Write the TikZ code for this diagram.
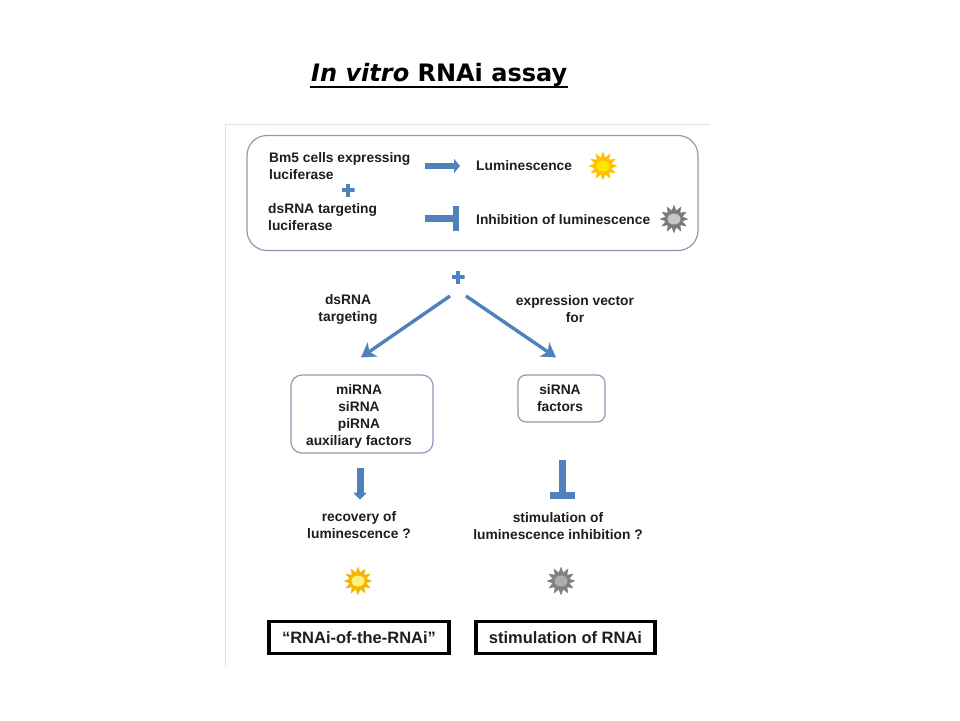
\documentclass[tikz,border=0pt]{standalone}
\usepackage{fontspec}
\setmainfont{Liberation Sans}
\newfontfamily\titlefont{DejaVu Sans}
\usetikzlibrary{arrows.meta,shapes.geometric}
\definecolor{bluearrow}{HTML}{4F81BD}
\definecolor{boxedge}{HTML}{8C9BB5}
\definecolor{txt}{HTML}{1E1E1E}
\definecolor{sunouter}{HTML}{FFC000}
\definecolor{suninner}{HTML}{FFE800}
\definecolor{sunouterb}{HTML}{F2B705}
\definecolor{suninnerb}{HTML}{FFF27A}
\tikzset{
  lbl/.style={inner sep=0pt,font=\fontsize{13.8}{17}\selectfont\bfseries,text=txt,align=center},
  lbll/.style={lbl,align=left,anchor=west},
  softbox/.style={draw=boxedge,line width=1.2pt,rounded corners=11pt,inner sep=0pt},
  resultbox/.style={draw=black,line width=3.5pt,inner sep=0pt,font=\fontsize{16.5}{19}\selectfont\bfseries,text=txt},
  blockarrow/.style={draw=bluearrow,line width=6pt,-{Triangle[length=6pt,width=14pt]}},
  blocktee/.style={draw=bluearrow,line width=6.5pt,-{Bar[width=25pt,line width=6.5pt]}},
  thinarrow/.style={draw=bluearrow,line width=3.4pt,-{Stealth[length=14pt,width=17pt,inset=4pt]}},
  plusmark/.style={inner sep=0pt,minimum size=13pt,draw=none,
    path picture={
      \fill[bluearrow] ([shift={(-6.5,-2.2)}]path picture bounding box.center) rectangle ([shift={(6.5,2.2)}]path picture bounding box.center);
      \fill[bluearrow] ([shift={(-2.2,-6.5)}]path picture bounding box.center) rectangle ([shift={(2.2,6.5)}]path picture bounding box.center);
    }},
  burst/.style={star,star points=12,star point ratio=1.65,inner sep=0pt,minimum size=29pt,draw=none},
  core/.style={ellipse,inner sep=0pt,minimum width=13pt,minimum height=11pt,draw=none},
  panelline/.style={draw=black!12,line width=0.8pt},
}
\begin{document}
\begin{tikzpicture}[x=1pt,y=-1pt]
\useasboundingbox (0,0) rectangle (960,720);
\fill[white] (0,0) rectangle (960,720);
% pasted-image edge
\coordinate (edgeA) at (225,667);
\coordinate (edgeB) at (225,124);
\coordinate (edgeC) at (710,124);
\draw[panelline] (edgeA) -- (edgeB) -- (edgeC);
% title
\node[anchor=base west,inner sep=0pt,font=\titlefont\fontsize{24}{28}\selectfont\bfseries] (title) at (311,81) {\textit{In vitro} RNAi assay};
\coordinate (ulA) at (310,87);
\coordinate (ulB) at (568,87);
\draw[line width=1.6pt] (ulA) -- (ulB);
% top panel
\node[draw=boxedge,line width=1.2pt,rounded corners=20pt,minimum width=451pt,minimum height=115pt,inner sep=0pt] (panel) at (472.5,193) {};
\node[lbll] (bm) at (269,166.5) {Bm5 cells expressing\\luciferase};
\node[plusmark] (plusA) at (348,190) {};
\node[lbll] (ds) at (268,217.5) {dsRNA targeting\\luciferase};
\node[lbll] (lum) at (476,166) {Luminescence};
\node[lbll] (inh) at (476,220) {Inhibition of luminescence};
\draw[blockarrow] ([shift={(0,-0.5)}]bm.east -| 425,0) -- ([shift={(-16,0)}]lum.west);
\draw[blocktee] ([shift={(-51,-1.5)}]inh.west) -- ([shift={(-17,-1.5)}]inh.west);
\node[burst,fill=sunouter] (sunA) at (603,166) {};
\node[core,fill=suninner] (sunAc) at (603,166) {};
\node[burst,fill=black!52] (darkA) at (674,219) {};
\node[core,fill=black!22] (darkAc) at (674,219) {};
% middle
\node[plusmark] (plusB) at (458,277) {};
\node[lbl] (dsT) at (348,309.5) {dsRNA\\targeting};
\node[lbl] (exT) at (575,309.5) {expression vector\\for};
\node[softbox,minimum width=142pt,minimum height=78pt] (mir) at (362,414) {};
\node[lbl] (mirT) at (359,416) {miRNA\\siRNA\\piRNA\\auxiliary factors};
\node[softbox,rounded corners=8pt,minimum width=87pt,minimum height=47pt] (sir) at (561.5,398.5) {};
\node[lbl] (sirT) at (560,398.5) {siRNA\\factors};
\draw[thinarrow] ([shift={(-8,19)}]plusB.center) -- ([shift={(-1,-17)}]mir.north);
\draw[thinarrow] ([shift={(8,19)}]plusB.center) -- ([shift={(-5.5,-17)}]sir.north);
% lower
\node[lbl] (rec) at (359,525.5) {recovery of\\luminescence ?};
\node[lbl] (sti) at (558,526.5) {stimulation of\\luminescence inhibition ?};
\draw[draw=bluearrow,line width=7pt,-{Triangle[length=7pt,width=13pt]}] ([shift={(-2,14)}]mir.south) -- ([shift={(1,-12)}]rec.north);
\draw[draw=bluearrow,line width=7pt,-{Bar[width=25pt,line width=7pt]}] ([shift={(0.5,37)}]sir.south) -- ([shift={(4,-14)}]sti.north);
\node[burst,fill=sunouterb] (sunB) at (358,581) {};
\node[core,fill=suninnerb] (sunBc) at (358,581) {};
\node[burst,fill=black!50] (darkB) at (561,581) {};
\node[core,fill=black!32] (darkBc) at (561,581) {};
\node[resultbox,minimum width=180pt,minimum height=32pt] (rnai) at (359,637.5) {“RNAi-of-the-RNAi”};
\node[resultbox,minimum width=179pt,minimum height=32pt] (stim) at (565.5,637.5) {stimulation of RNAi};
\end{tikzpicture}
\end{document}
